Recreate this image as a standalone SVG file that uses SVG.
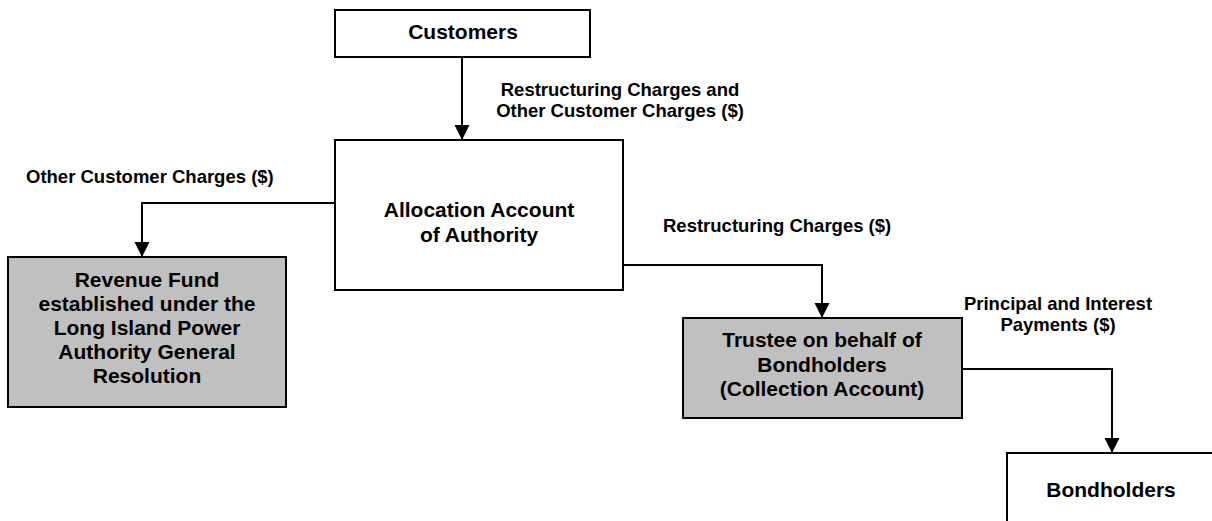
<svg xmlns="http://www.w3.org/2000/svg" width="1212" height="521" viewBox="0 0 1212 521">
<style>
.box{fill:#ffffff;stroke:#000000;stroke-width:2}
.grey{fill:#c0c0c0;stroke:#000000;stroke-width:2}
.t{font-family:"Liberation Sans",Arial,sans-serif;font-weight:bold;font-size:21px;fill:#000000;text-anchor:middle}
.l{font-family:"Liberation Sans",Arial,sans-serif;font-weight:bold;font-size:18.5px;fill:#000000}
.c{fill:none;stroke:#000000;stroke-width:2}
</style>
<defs>
<marker id="arr" markerUnits="userSpaceOnUse" markerWidth="16" markerHeight="16" refX="15" refY="7.5" orient="auto">
<path d="M0,0 L15,7.5 L0,15 Z" fill="#000000"/>
</marker>
</defs>
<rect width="1212" height="521" fill="#ffffff"/>
<g id="connectors">
<path class="c" d="M462,57 L462,140" marker-end="url(#arr)"/>
<path class="c" d="M335,203 L142,203 L142,257" marker-end="url(#arr)"/>
<path class="c" d="M623,265 L822,265 L822,318" marker-end="url(#arr)"/>
<path class="c" d="M962,369 L1112,369 L1112,453" marker-end="url(#arr)"/>
</g>
<g id="customers">
<rect class="box" x="335" y="10" width="255" height="47"/>
<text class="t" x="463" y="39">Customers</text>
</g>
<g id="allocation">
<rect class="box" x="335" y="140" width="288" height="150"/>
<text class="t" x="479" y="217">Allocation Account</text>
<text class="t" x="479" y="242">of Authority</text>
</g>
<g id="revenue">
<rect class="grey" x="8" y="257" width="278" height="150"/>
<text class="t" x="147" y="287">Revenue Fund</text>
<text class="t" x="147" y="311">established under the</text>
<text class="t" x="147" y="335">Long Island Power</text>
<text class="t" x="147" y="359">Authority General</text>
<text class="t" x="147" y="383">Resolution</text>
</g>
<g id="trustee">
<rect class="grey" x="683" y="318" width="279" height="100"/>
<text class="t" x="822" y="347">Trustee on behalf of</text>
<text class="t" x="822" y="372">Bondholders</text>
<text class="t" x="822" y="396">(Collection Account)</text>
</g>
<g id="bondholders">
<rect class="box" x="1007" y="453" width="212" height="100"/>
<text class="t" x="1111" y="497">Bondholders</text>
</g>
<g id="labels">
<text class="l" x="620" y="96" text-anchor="middle">Restructuring Charges and</text>
<text class="l" x="620" y="117" text-anchor="middle">Other Customer Charges ($)</text>
<text class="l" x="26" y="183">Other Customer Charges ($)</text>
<text class="l" x="663" y="232">Restructuring Charges ($)</text>
<text class="l" x="1058" y="310" text-anchor="middle">Principal and Interest</text>
<text class="l" x="1058" y="331" text-anchor="middle">Payments ($)</text>
</g>
</svg>
